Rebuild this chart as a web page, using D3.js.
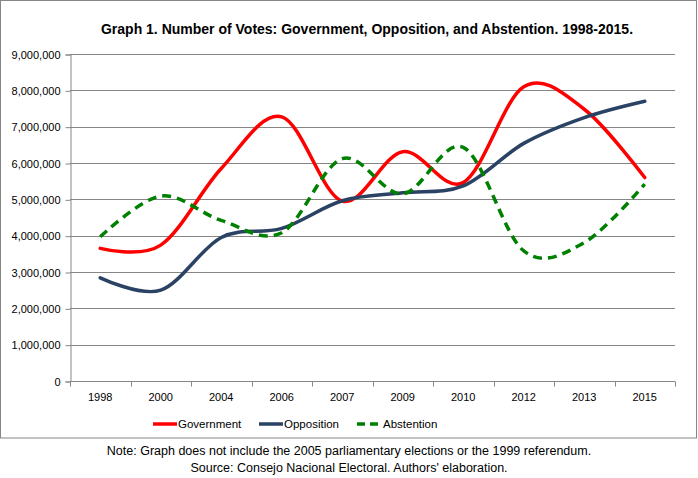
<!DOCTYPE html>
<html><head><meta charset="utf-8">
<script src="https://cdn.jsdelivr.net/npm/d3@7"></script>
<style>
html,body{margin:0;padding:0;background:#fff;}
svg{display:block;font-family:"Liberation Sans",Arial,sans-serif;}
</style></head>
<body>
<svg id="chart" width="698" height="478"></svg>
<script>
const categories = ["1998","2000","2004","2006","2007","2009","2010","2012","2013","2015"];
const government = [3650000, 3740000, 5850000, 7270000, 4950000, 6310000, 5460000, 8100000, 7480000, 5600000];
const opposition = [2840000, 2500000, 3950000, 4200000, 4960000, 5180000, 5370000, 6540000, 7250000, 7700000];
const abstention = [3970000, 5090000, 4420000, 4080000, 6120000, 5150000, 6430000, 3580000, 3810000, 5420000];
const yTicks = [0,1000000,2000000,3000000,4000000,5000000,6000000,7000000,8000000,9000000];
const seriesNames = ["Government","Opposition","Abstention"];

const svg = d3.select("#chart");
const margin = {left:70, right:675, top:54, bottom:381};

svg.append("rect").attr("x",0.5).attr("y",0.5).attr("width",696).attr("height",437.5)
  .attr("fill","#fff").attr("stroke","#868686").attr("stroke-width",1);

svg.append("text").attr("x",367).attr("y",34).attr("text-anchor","middle")
  .attr("font-size","14px").attr("font-weight","bold").attr("fill","#000")
  .text("Graph 1. Number of Votes: Government, Opposition, and Abstention. 1998-2015.");

const x = d3.scaleBand().domain(categories).range([margin.left, margin.right]);
const y = d3.scaleLinear().domain([0,9000000]).range([margin.bottom, margin.top]);

// gridlines
svg.append("g").selectAll("line").data(yTicks.filter(d=>d>0)).join("line")
  .attr("x1",margin.left).attr("x2",margin.right)
  .attr("y1",d=>Math.round(y(d))+0.5).attr("y2",d=>Math.round(y(d))+0.5)
  .attr("stroke","#868686").attr("stroke-width",1);

// y axis
const yAxis = d3.axisLeft(y).tickValues(yTicks).tickSize(5).tickPadding(5)
  .tickFormat(d3.format(","));
const gy = svg.append("g").attr("transform",`translate(${margin.left+0.5},0.5)`).call(yAxis);
gy.select(".domain").attr("stroke","#868686");
gy.selectAll(".tick line").attr("stroke","#868686");
gy.selectAll(".tick text").attr("font-size","11px").attr("fill","#000").attr("font-family","Liberation Sans, Arial, sans-serif");

// x axis
const gx = svg.append("g").attr("transform",`translate(0,${margin.bottom+0.5})`);
gx.append("line").attr("x1",margin.left).attr("x2",margin.right).attr("stroke","#868686");
const bounds = categories.map(c=>x(c)).concat([margin.right]);
gx.selectAll("line.tk").data(bounds).join("line").attr("class","tk")
  .attr("x1",d=>Math.round(d)+0.5).attr("x2",d=>Math.round(d)+0.5).attr("y1",0).attr("y2",5)
  .attr("stroke","#868686");
gx.selectAll("text").data(categories).join("text")
  .attr("x",d=>x(d)+x.bandwidth()/2).attr("y",19).attr("text-anchor","middle")
  .attr("font-size","11px").attr("fill","#000").text(d=>d);

const cx = (d,i)=>x(categories[i])+x.bandwidth()/2;
const line = d3.line().x(cx).y(d=>y(d)).curve(d3.curveCatmullRom.alpha(0));

const styles = [
  {data:government, color:"#FF0000", dash:null},
  {data:opposition, color:"#2A4263", dash:null},
  {data:abstention, color:"#008000", dash:"9,6"}
];
styles.forEach(s=>{
  svg.append("path").datum(s.data).attr("d",line).attr("fill","none")
    .attr("stroke",s.color).attr("stroke-width",3.5)
    .attr("stroke-linecap", s.dash? "butt":"round")
    .attr("stroke-linejoin","round")
    .attr("stroke-dasharray",s.dash);
});

// legend
const legX = [153, 259, 357];
const legG = svg.append("g");
seriesNames.forEach((n,i)=>{
  const s = styles[i];
  legG.append("line").attr("x1",legX[i]).attr("x2",legX[i]+24).attr("y1",424).attr("y2",424)
    .attr("stroke",s.color).attr("stroke-width",3.5).attr("stroke-dasharray",s.dash? "8,5":null);
  legG.append("text").attr("x",legX[i]+ (i===2?26:25)).attr("y",428).attr("font-size","11.5px")
    .attr("fill","#000").text(n);
});

svg.append("text").attr("x",349).attr("y",455).attr("text-anchor","middle").attr("font-size","12.5px")
  .text("Note: Graph does not include the 2005 parliamentary elections or the 1999 referendum.");
svg.append("text").attr("x",349).attr("y",472).attr("text-anchor","middle").attr("font-size","12.5px")
  .text("Source: Consejo Nacional Electoral. Authors' elaboration.");
</script>
</body></html>
